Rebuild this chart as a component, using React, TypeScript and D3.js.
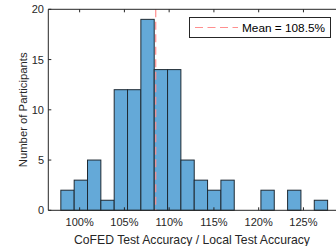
import React, { useRef, useEffect } from "react";
import * as d3 from "d3";

// histogram counts, bins of equal width starting at binStart (%)
const counts = [2, 3, 5, 1, 12, 12, 19, 14, 14, 5, 3, 2, 3, 0, 0, 2, 0, 2, 0, 1];
const binStart = 97.9;
const binWidth = 1.49;
const xTicks = [100, 105, 110, 115, 120, 125];
const yTicks = [0, 5, 10, 15, 20];
const meanValue = 108.5;

const W = 336;
const H = 246;

const App = () => {
  const ref = useRef<SVGSVGElement>(null);

  useEffect(() => {
    const svg = d3.select(ref.current);
    svg.selectAll("*").remove();

    const x = d3.scaleLinear().domain([96.5, 130]).range([48.3, 348.2]);
    const y = d3.scaleLinear().domain([0, 20]).range([210.3, 9.3]);
    const font = "'Liberation Sans', Arial, sans-serif";
    const axisColor = "#262626";

    const bins = counts.map((c, i) => ({
      x0: binStart + i * binWidth,
      x1: binStart + (i + 1) * binWidth,
      c,
    }));

    // bars
    svg.append("g")
      .selectAll("rect")
      .data(bins.filter(d => d.c > 0))
      .enter()
      .append("rect")
      .attr("x", d => x(d.x0))
      .attr("y", d => y(d.c))
      .attr("width", d => x(d.x1) - x(d.x0))
      .attr("height", d => y(0) - y(d.c))
      .attr("fill", "#64a9d8")
      .attr("stroke", "#1f2a33")
      .attr("stroke-width", 1);

    // mean line
    svg.append("line")
      .attr("x1", x(meanValue))
      .attr("x2", x(meanValue))
      .attr("y1", y(20))
      .attr("y2", y(0))
      .attr("stroke", "#ff8f8f")
      .attr("stroke-width", 1.2)
      .attr("stroke-dasharray", "8,4.5");

    // axes box (left, bottom, top)
    const x0 = x.range()[0];
    const xEnd = x.range()[1];
    svg.append("path")
      .attr("d", `M${xEnd},${y(20)}H${x0}V${y(0)}H${xEnd}`)
      .attr("fill", "none")
      .attr("stroke", axisColor)
      .attr("stroke-width", 1);

    // x ticks
    xTicks.forEach(t => {
      const px = x(t);
      svg.append("line").attr("x1", px).attr("x2", px)
        .attr("y1", y(0)).attr("y2", y(0) - 3)
        .attr("stroke", axisColor);
      svg.append("line").attr("x1", px).attr("x2", px)
        .attr("y1", y(20)).attr("y2", y(20) + 3)
        .attr("stroke", axisColor);
      svg.append("text")
        .attr("x", px)
        .attr("y", 226)
        .attr("text-anchor", "middle")
        .style("font-family", font)
        .style("font-size", "11px")
        .attr("fill", axisColor)
        .text(`${t}%`);
    });

    // y ticks
    yTicks.forEach(t => {
      const py = y(t);
      svg.append("line").attr("x1", x0).attr("x2", x0 + 3)
        .attr("y1", py).attr("y2", py)
        .attr("stroke", axisColor);
      svg.append("text")
        .attr("x", 44)
        .attr("y", py + 4)
        .attr("text-anchor", "end")
        .style("font-family", font)
        .style("font-size", "11px")
        .attr("fill", axisColor)
        .text(t);
    });

    // axis labels
    svg.append("text")
      .attr("x", 192)
      .attr("y", 244)
      .attr("text-anchor", "middle")
      .style("font-family", font)
      .style("font-size", "12.2px")
      .attr("fill", axisColor)
      .text("CoFED Test Accuracy / Local Test Accuracy");

    svg.append("text")
      .attr("transform", `translate(27,${(y(0) + y(20)) / 2}) rotate(-90)`)
      .attr("text-anchor", "middle")
      .style("font-family", font)
      .style("font-size", "11.3px")
      .attr("fill", axisColor)
      .text("Number of Participants");

    // legend
    const lg = svg.append("g");
    lg.append("rect")
      .attr("x", 189.5).attr("y", 17.5)
      .attr("width", 141).attr("height", 20)
      .attr("fill", "white")
      .attr("stroke", axisColor)
      .attr("stroke-width", 1);
    lg.append("line")
      .attr("x1", 195).attr("x2", 238)
      .attr("y1", 27.5).attr("y2", 27.5)
      .attr("stroke", "#ff8f8f")
      .attr("stroke-width", 1.2)
      .attr("stroke-dasharray", "8,4.5");
    lg.append("text")
      .attr("x", 242)
      .attr("y", 31.8)
      .style("font-family", font)
      .style("font-size", "11.8px")
      .attr("fill", "#000")
      .text(`Mean = ${meanValue}%`);
  }, []);

  return (
    <div style={{ position: "fixed", left: 0, top: 0, width: W, height: H, background: "white" }}>
      <svg ref={ref} width={W} height={H} style={{ display: "block" }}></svg>
    </div>
  );
};

export default App;
